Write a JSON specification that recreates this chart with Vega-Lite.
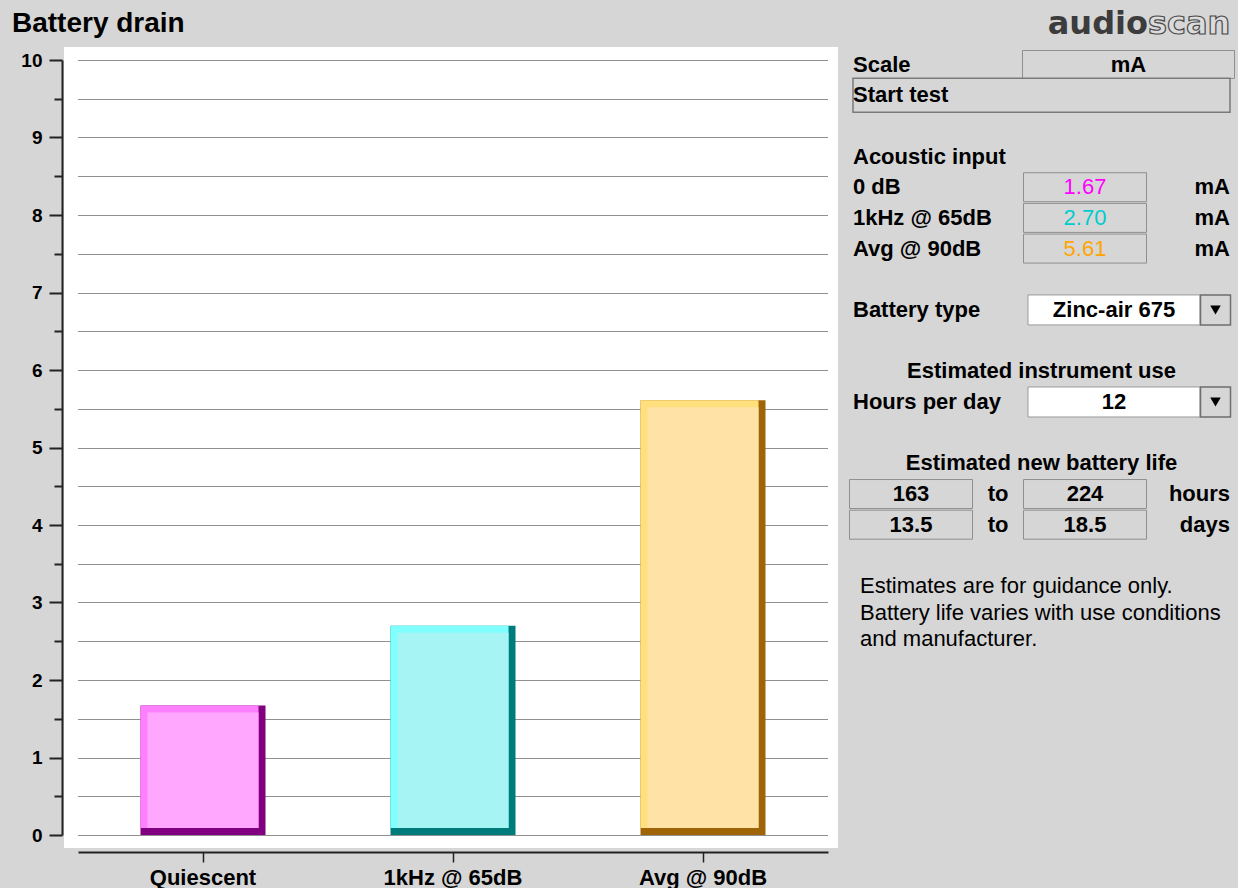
{
  "$schema": "https://vega.github.io/schema/vega-lite/v6.json",
  "width": 774,
  "height": 801,
  "autosize": {"type": "none"},
  "padding": {"left": 64, "top": 47, "right": 400, "bottom": 40},
  "background": "#d6d6d6",
  "config": {"view": {"fill": "#ffffff", "stroke": null}, "font": "Liberation Sans"},
  "datasets": {
    "bars": [
      {"cond": "Quiescent", "input": "0 dB", "mA": 1.67},
      {"cond": "1kHz @ 65dB", "input": "1kHz @ 65dB", "mA": 2.70},
      {"cond": "Avg @ 90dB", "input": "Avg @ 90dB", "mA": 5.61}
    ],
    "panel": [
      {"line": "scale", "col": "name", "text": "Scale"},
      {"line": "scale", "col": "sel", "text": "mA"},
      {"line": "start", "col": "name", "text": "Start test"},
      {"line": "acoustic", "col": "name", "text": "Acoustic input"},
      {"line": "0 dB", "col": "name", "text": "0 dB"},
      {"line": "1kHz @ 65dB", "col": "name", "text": "1kHz @ 65dB"},
      {"line": "Avg @ 90dB", "col": "name", "text": "Avg @ 90dB"},
      {"line": "0 dB", "col": "unit", "text": "mA"},
      {"line": "1kHz @ 65dB", "col": "unit", "text": "mA"},
      {"line": "Avg @ 90dB", "col": "unit", "text": "mA"},
      {"line": "battery", "col": "name", "text": "Battery type"},
      {"line": "battery", "col": "drop", "text": "Zinc-air 675"},
      {"line": "est_use", "col": "mid", "text": "Estimated instrument use"},
      {"line": "hours", "col": "name", "text": "Hours per day"},
      {"line": "hours", "col": "drop", "text": "12"},
      {"line": "est_life", "col": "mid", "text": "Estimated new battery life"},
      {"line": "life_h", "col": "lo", "text": "163"},
      {"line": "life_h", "col": "to", "text": "to"},
      {"line": "life_h", "col": "hi", "text": "224"},
      {"line": "life_h", "col": "unit", "text": "hours"},
      {"line": "life_d", "col": "lo", "text": "13.5"},
      {"line": "life_d", "col": "to", "text": "to"},
      {"line": "life_d", "col": "hi", "text": "18.5"},
      {"line": "life_d", "col": "unit", "text": "days"}
    ],
    "note": [
      {"line": "note", "col": "name", "text": ["Estimates are for guidance only.", "Battery life varies with use conditions", "and manufacturer."]}
    ],
    "logo": [
      {"line": "logo", "col": "logo", "part": "audio"},
      {"line": "logo", "col": "logo", "part": "scan"}
    ],
    "header": [
      {"line": "logo", "col": "title", "text": "Battery drain"}
    ],
    "boxes": [
      {"line": "scale", "col": "sel", "kind": "wide"},
      {"line": "start", "col": "mid", "kind": "start"},
      {"line": "0 dB", "col": "hi", "kind": "field"},
      {"line": "1kHz @ 65dB", "col": "hi", "kind": "field"},
      {"line": "Avg @ 90dB", "col": "hi", "kind": "field"},
      {"line": "battery", "col": "drop", "kind": "drop"},
      {"line": "battery", "col": "btn", "kind": "btn"},
      {"line": "hours", "col": "drop", "kind": "drop"},
      {"line": "hours", "col": "btn", "kind": "btn"},
      {"line": "life_h", "col": "lo", "kind": "field"},
      {"line": "life_h", "col": "hi", "kind": "field"},
      {"line": "life_d", "col": "lo", "kind": "field"},
      {"line": "life_d", "col": "hi", "kind": "field"}
    ]
  },
  "layer": [
    {
      "data": {"name": "bars"},
      "mark": {"type": "bar", "width": 125},
      "encoding": {
        "x": {"field": "cond", "type": "nominal", "sort": null,
          "scale": {"type": "band", "domain": ["Quiescent", "1kHz @ 65dB", "Avg @ 90dB"], "range": [14, 764], "paddingInner": 0.5, "paddingOuter": 0.25},
          "axis": {"title": null, "orient": "bottom", "offset": 4, "domainColor": "#222222", "domainWidth": 2, "tickColor": "#222222", "tickWidth": 1.5, "tickSize": 10, "labelFont": "Liberation Sans", "labelFontSize": 22, "labelFontWeight": "bold", "labelColor": "#000000", "labelPadding": 5, "labelAngle": 0, "grid": false}},
        "y": {"field": "mA", "type": "quantitative",
          "scale": {"domain": [0, 10], "range": [788, 13], "nice": false, "zero": true},
          "axis": {"title": null, "values": [0, 0.5, 1, 1.5, 2, 2.5, 3, 3.5, 4, 4.5, 5, 5.5, 6, 6.5, 7, 7.5, 8, 8.5, 9, 9.5, 10], "offset": 2, "domainColor": "#222222", "domainWidth": 2, "tickColor": "#222222", "tickWidth": 2,
            "tickSize": {"condition": {"test": "datum.value % 1 === 0", "value": 13}, "value": 8},
            "labelExpr": "datum.value % 1 === 0 ? format(datum.value, 'd') : ''", "labelFont": "Liberation Sans", "labelFontSize": 19, "labelFontWeight": "bold", "labelColor": "#000000", "labelPadding": 7,
            "grid": true, "gridColor": "#222222", "gridDash": [1, 1], "gridWidth": 1}},
        "color": {"field": "cond", "type": "nominal", "legend": null,
          "scale": {"domain": ["Quiescent", "1kHz @ 65dB", "Avg @ 90dB"], "range": ["#800080", "#007b7b", "#a06408"]}}
      }
    },
    {
      "data": {"name": "bars"},
      "mark": {"type": "bar", "width": 118, "xOffset": -3.5, "y2Offset": -7},
      "encoding": {
        "x": {"field": "cond", "type": "nominal", "sort": null, "axis": null,
          "scale": {"type": "band", "domain": ["Quiescent", "1kHz @ 65dB", "Avg @ 90dB"], "range": [14, 764], "paddingInner": 0.5, "paddingOuter": 0.25}},
        "y": {"field": "mA", "type": "quantitative", "axis": null, "scale": {"domain": [0, 10], "range": [788, 13], "nice": false, "zero": true}},
        "y2": {"datum": 0},
        "color": {"field": "cond", "type": "nominal", "legend": null,
          "scale": {"domain": ["Quiescent", "1kHz @ 65dB", "Avg @ 90dB"], "range": ["#ff80ff", "#80ffff", "#ffe07c"]}}
      }
    },
    {
      "data": {"name": "bars"},
      "mark": {"type": "bar", "width": 111, "yOffset": 7, "y2Offset": -7},
      "encoding": {
        "x": {"field": "cond", "type": "nominal", "sort": null, "axis": null,
          "scale": {"type": "band", "domain": ["Quiescent", "1kHz @ 65dB", "Avg @ 90dB"], "range": [14, 764], "paddingInner": 0.5, "paddingOuter": 0.25}},
        "y": {"field": "mA", "type": "quantitative", "axis": null, "scale": {"domain": [0, 10], "range": [788, 13], "nice": false, "zero": true}},
        "y2": {"datum": 0},
        "color": {"field": "cond", "type": "nominal", "legend": null,
          "scale": {"domain": ["Quiescent", "1kHz @ 65dB", "Avg @ 90dB"], "range": ["#ffa6ff", "#a6f4f4", "#ffe2a6"]}}
      }
    },
    {
      "data": {"name": "header"},
      "mark": {"type": "text", "align": "left", "baseline": "alphabetic", "dy": -2, "font": "Liberation Sans", "fontSize": 28, "fontWeight": "bold", "color": "#000000"},
      "encoding": {
        "x": {"field": "col", "type": "nominal", "axis": null, "scale": {"type": "point", "domain": ["title"], "range": [-52, -52], "padding": 0}},
        "y": {"field": "line", "type": "nominal", "axis": null, "scale": {"type": "point", "domain": ["logo","scale","start","r2","acoustic","0 dB","1kHz @ 65dB","Avg @ 90dB","r7","battery","r9","est_use","hours","r12","est_life","life_h","life_d","r16","note","r18"], "range": [-13.18, 569.74], "padding": 0}},
        "text": {"field": "text", "type": "nominal"}
      }
    },
    {
      "data": {"name": "boxes"},
      "transform": [{"filter": "datum.kind === 'wide'"}],
      "mark": {"type": "rect", "width": 212, "height": 28, "fill": "#d6d6d6", "stroke": "#8f8f8f", "strokeWidth": 1},
      "encoding": {
        "x": {"field": "col", "type": "nominal", "axis": null, "scale": {"type": "point", "domain": ["name","s1","s2","s3","lo","s5","s6","s7","s8","s9","to","s11","s12","mid","s14","s15","hi","s17","drop","sel","logo","s21","s22","s23","s24","btn","unit"], "range": [789, 1166], "padding": 0}},
        "y": {"field": "line", "type": "nominal", "axis": null, "scale": {"type": "point", "domain": ["logo","scale","start","r2","acoustic","0 dB","1kHz @ 65dB","Avg @ 90dB","r7","battery","r9","est_use","hours","r12","est_life","life_h","life_d","r16","note","r18"], "range": [-13.18, 569.74], "padding": 0}}
      }
    },
    {
      "data": {"name": "boxes"},
      "transform": [{"filter": "datum.kind === 'start'"}],
      "mark": {"type": "rect", "width": 377, "height": 34, "fill": "#d6d6d6", "stroke": "#7a7a7a", "strokeWidth": 1.5},
      "encoding": {
        "x": {"field": "col", "type": "nominal", "axis": null, "scale": {"type": "point", "domain": ["name","s1","s2","s3","lo","s5","s6","s7","s8","s9","to","s11","s12","mid","s14","s15","hi","s17","drop","sel","logo","s21","s22","s23","s24","btn","unit"], "range": [789, 1166], "padding": 0}},
        "y": {"field": "line", "type": "nominal", "axis": null, "scale": {"type": "point", "domain": ["logo","scale","start","r2","acoustic","0 dB","1kHz @ 65dB","Avg @ 90dB","r7","battery","r9","est_use","hours","r12","est_life","life_h","life_d","r16","note","r18"], "range": [-13.18, 569.74], "padding": 0}}
      }
    },
    {
      "data": {"name": "boxes"},
      "transform": [{"filter": "datum.kind === 'field'"}],
      "mark": {"type": "rect", "width": 123, "height": 29, "fill": "#d6d6d6", "stroke": "#8f8f8f", "strokeWidth": 1},
      "encoding": {
        "x": {"field": "col", "type": "nominal", "axis": null, "scale": {"type": "point", "domain": ["name","s1","s2","s3","lo","s5","s6","s7","s8","s9","to","s11","s12","mid","s14","s15","hi","s17","drop","sel","logo","s21","s22","s23","s24","btn","unit"], "range": [789, 1166], "padding": 0}},
        "y": {"field": "line", "type": "nominal", "axis": null, "scale": {"type": "point", "domain": ["logo","scale","start","r2","acoustic","0 dB","1kHz @ 65dB","Avg @ 90dB","r7","battery","r9","est_use","hours","r12","est_life","life_h","life_d","r16","note","r18"], "range": [-13.18, 569.74], "padding": 0}}
      }
    },
    {
      "data": {"name": "boxes"},
      "transform": [{"filter": "datum.kind === 'drop'"}],
      "mark": {"type": "rect", "width": 172, "height": 30, "fill": "#ffffff", "stroke": "#9a9a9a", "strokeWidth": 1},
      "encoding": {
        "x": {"field": "col", "type": "nominal", "axis": null, "scale": {"type": "point", "domain": ["name","s1","s2","s3","lo","s5","s6","s7","s8","s9","to","s11","s12","mid","s14","s15","hi","s17","drop","sel","logo","s21","s22","s23","s24","btn","unit"], "range": [789, 1166], "padding": 0}},
        "y": {"field": "line", "type": "nominal", "axis": null, "scale": {"type": "point", "domain": ["logo","scale","start","r2","acoustic","0 dB","1kHz @ 65dB","Avg @ 90dB","r7","battery","r9","est_use","hours","r12","est_life","life_h","life_d","r16","note","r18"], "range": [-13.18, 569.74], "padding": 0}}
      }
    },
    {
      "data": {"name": "boxes"},
      "transform": [{"filter": "datum.kind === 'btn'"}],
      "mark": {"type": "rect", "width": 30, "height": 30, "fill": "#d6d6d6", "stroke": "#6e6e6e", "strokeWidth": 1.5},
      "encoding": {
        "x": {"field": "col", "type": "nominal", "axis": null, "scale": {"type": "point", "domain": ["name","s1","s2","s3","lo","s5","s6","s7","s8","s9","to","s11","s12","mid","s14","s15","hi","s17","drop","sel","logo","s21","s22","s23","s24","btn","unit"], "range": [789, 1166], "padding": 0}},
        "y": {"field": "line", "type": "nominal", "axis": null, "scale": {"type": "point", "domain": ["logo","scale","start","r2","acoustic","0 dB","1kHz @ 65dB","Avg @ 90dB","r7","battery","r9","est_use","hours","r12","est_life","life_h","life_d","r16","note","r18"], "range": [-13.18, 569.74], "padding": 0}}
      }
    },
    {
      "data": {"name": "boxes"},
      "transform": [{"filter": "datum.kind === 'btn'"}],
      "mark": {"type": "point", "shape": "triangle-down", "filled": true, "size": 110, "color": "#000000", "opacity": 1},
      "encoding": {
        "x": {"field": "col", "type": "nominal", "axis": null, "scale": {"type": "point", "domain": ["name","s1","s2","s3","lo","s5","s6","s7","s8","s9","to","s11","s12","mid","s14","s15","hi","s17","drop","sel","logo","s21","s22","s23","s24","btn","unit"], "range": [789, 1166], "padding": 0}},
        "y": {"field": "line", "type": "nominal", "axis": null, "scale": {"type": "point", "domain": ["logo","scale","start","r2","acoustic","0 dB","1kHz @ 65dB","Avg @ 90dB","r7","battery","r9","est_use","hours","r12","est_life","life_h","life_d","r16","note","r18"], "range": [-13.18, 569.74], "padding": 0}}
      }
    },
    {
      "data": {"name": "panel"},
      "transform": [{"filter": "datum.col === 'name'"}],
      "mark": {"type": "text", "align": "left", "baseline": "middle", "font": "Liberation Sans", "fontSize": 22, "fontWeight": "bold", "color": "#000000"},
      "encoding": {
        "x": {"field": "col", "type": "nominal", "axis": null, "scale": {"type": "point", "domain": ["name","s1","s2","s3","lo","s5","s6","s7","s8","s9","to","s11","s12","mid","s14","s15","hi","s17","drop","sel","logo","s21","s22","s23","s24","btn","unit"], "range": [789, 1166], "padding": 0}},
        "y": {"field": "line", "type": "nominal", "axis": null, "scale": {"type": "point", "domain": ["logo","scale","start","r2","acoustic","0 dB","1kHz @ 65dB","Avg @ 90dB","r7","battery","r9","est_use","hours","r12","est_life","life_h","life_d","r16","note","r18"], "range": [-13.18, 569.74], "padding": 0}},
        "text": {"field": "text", "type": "nominal"}
      }
    },
    {
      "data": {"name": "panel"},
      "transform": [{"filter": "datum.col !== 'name' && datum.col !== 'unit'"}],
      "mark": {"type": "text", "align": "center", "baseline": "middle", "font": "Liberation Sans", "fontSize": 22, "fontWeight": "bold", "color": "#000000"},
      "encoding": {
        "x": {"field": "col", "type": "nominal", "axis": null, "scale": {"type": "point", "domain": ["name","s1","s2","s3","lo","s5","s6","s7","s8","s9","to","s11","s12","mid","s14","s15","hi","s17","drop","sel","logo","s21","s22","s23","s24","btn","unit"], "range": [789, 1166], "padding": 0}},
        "y": {"field": "line", "type": "nominal", "axis": null, "scale": {"type": "point", "domain": ["logo","scale","start","r2","acoustic","0 dB","1kHz @ 65dB","Avg @ 90dB","r7","battery","r9","est_use","hours","r12","est_life","life_h","life_d","r16","note","r18"], "range": [-13.18, 569.74], "padding": 0}},
        "text": {"field": "text", "type": "nominal"}
      }
    },
    {
      "data": {"name": "panel"},
      "transform": [{"filter": "datum.col === 'unit'"}],
      "mark": {"type": "text", "align": "right", "baseline": "middle", "font": "Liberation Sans", "fontSize": 22, "fontWeight": "bold", "color": "#000000"},
      "encoding": {
        "x": {"field": "col", "type": "nominal", "axis": null, "scale": {"type": "point", "domain": ["name","s1","s2","s3","lo","s5","s6","s7","s8","s9","to","s11","s12","mid","s14","s15","hi","s17","drop","sel","logo","s21","s22","s23","s24","btn","unit"], "range": [789, 1166], "padding": 0}},
        "y": {"field": "line", "type": "nominal", "axis": null, "scale": {"type": "point", "domain": ["logo","scale","start","r2","acoustic","0 dB","1kHz @ 65dB","Avg @ 90dB","r7","battery","r9","est_use","hours","r12","est_life","life_h","life_d","r16","note","r18"], "range": [-13.18, 569.74], "padding": 0}},
        "text": {"field": "text", "type": "nominal"}
      }
    },
    {
      "data": {"name": "bars"},
      "mark": {"type": "text", "align": "center", "baseline": "middle", "font": "Liberation Sans", "fontSize": 22, "fontWeight": "normal"},
      "encoding": {
        "x": {"datum": "hi", "type": "nominal", "axis": null, "scale": {"type": "point", "domain": ["name","s1","s2","s3","lo","s5","s6","s7","s8","s9","to","s11","s12","mid","s14","s15","hi","s17","drop","sel","logo","s21","s22","s23","s24","btn","unit"], "range": [789, 1166], "padding": 0}},
        "y": {"field": "input", "type": "nominal", "axis": null, "scale": {"type": "point", "domain": ["logo","scale","start","r2","acoustic","0 dB","1kHz @ 65dB","Avg @ 90dB","r7","battery","r9","est_use","hours","r12","est_life","life_h","life_d","r16","note","r18"], "range": [-13.18, 569.74], "padding": 0}},
        "text": {"field": "mA", "type": "quantitative", "format": ".2f"},
        "color": {"field": "cond", "type": "nominal", "legend": null,
          "scale": {"domain": ["Quiescent", "1kHz @ 65dB", "Avg @ 90dB"], "range": ["#ff00ff", "#00cccc", "#ffa500"]}}
      }
    },
    {
      "data": {"name": "note"},
      "mark": {"type": "text", "align": "left", "baseline": "middle", "dx": 7, "lineHeight": 26.5, "font": "Liberation Sans", "fontSize": 22, "fontWeight": "normal", "color": "#000000"},
      "encoding": {
        "x": {"field": "col", "type": "nominal", "axis": null, "scale": {"type": "point", "domain": ["name","s1","s2","s3","lo","s5","s6","s7","s8","s9","to","s11","s12","mid","s14","s15","hi","s17","drop","sel","logo","s21","s22","s23","s24","btn","unit"], "range": [789, 1166], "padding": 0}},
        "y": {"field": "line", "type": "nominal", "axis": null, "scale": {"type": "point", "domain": ["logo","scale","start","r2","acoustic","0 dB","1kHz @ 65dB","Avg @ 90dB","r7","battery","r9","est_use","hours","r12","est_life","life_h","life_d","r16","note","r18"], "range": [-13.18, 569.74], "padding": 0}},
        "text": {"field": "text", "type": "nominal"}
      }
    },
    {
      "data": {"name": "logo"},
      "transform": [{"filter": "datum.part === 'audio'"}],
      "mark": {"type": "text", "align": "right", "baseline": "alphabetic", "dx": 5, "font": "DejaVu Sans", "fontSize": 32, "fontWeight": "bold", "color": "#3c3c3c"},
      "encoding": {
        "x": {"field": "col", "type": "nominal", "axis": null, "scale": {"type": "point", "domain": ["name","s1","s2","s3","lo","s5","s6","s7","s8","s9","to","s11","s12","mid","s14","s15","hi","s17","drop","sel","logo","s21","s22","s23","s24","btn","unit"], "range": [789, 1166], "padding": 0}},
        "y": {"field": "line", "type": "nominal", "axis": null, "scale": {"type": "point", "domain": ["logo","scale","start","r2","acoustic","0 dB","1kHz @ 65dB","Avg @ 90dB","r7","battery","r9","est_use","hours","r12","est_life","life_h","life_d","r16","note","r18"], "range": [-13.18, 569.74], "padding": 0}},
        "text": {"field": "part", "type": "nominal"}
      }
    },
    {
      "data": {"name": "logo"},
      "transform": [{"filter": "datum.part === 'scan'"}],
      "mark": {"type": "text", "align": "left", "baseline": "alphabetic", "dx": 5, "font": "DejaVu Sans", "fontSize": 32, "fontWeight": "bold", "fill": "#dcdcdc", "stroke": "#4a4a4a", "strokeWidth": 1.2},
      "encoding": {
        "x": {"field": "col", "type": "nominal", "axis": null, "scale": {"type": "point", "domain": ["name","s1","s2","s3","lo","s5","s6","s7","s8","s9","to","s11","s12","mid","s14","s15","hi","s17","drop","sel","logo","s21","s22","s23","s24","btn","unit"], "range": [789, 1166], "padding": 0}},
        "y": {"field": "line", "type": "nominal", "axis": null, "scale": {"type": "point", "domain": ["logo","scale","start","r2","acoustic","0 dB","1kHz @ 65dB","Avg @ 90dB","r7","battery","r9","est_use","hours","r12","est_life","life_h","life_d","r16","note","r18"], "range": [-13.18, 569.74], "padding": 0}},
        "text": {"field": "part", "type": "nominal"}
      }
    }
  ],
  "resolve": {"scale": {"x": "independent", "y": "independent", "color": "independent"}}
}
